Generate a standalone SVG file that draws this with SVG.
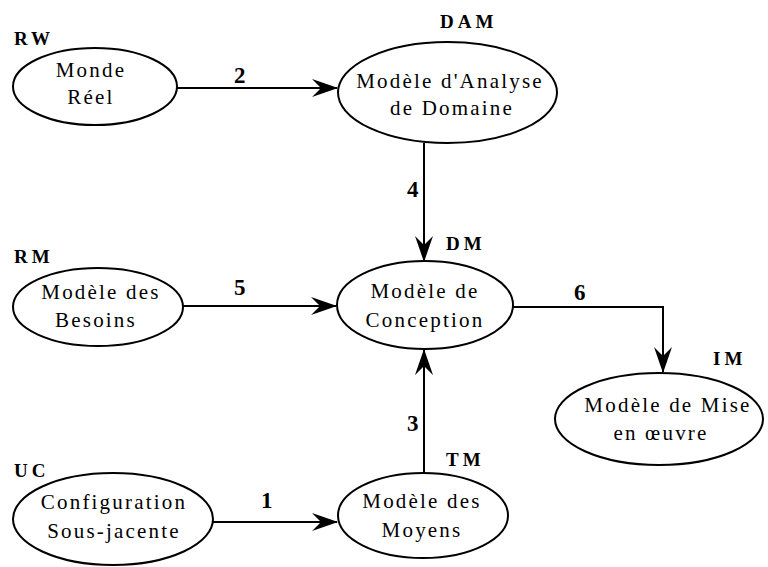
<svg xmlns="http://www.w3.org/2000/svg" width="768" height="567" viewBox="0 0 768 567">
<style>
.n{fill:#fff;stroke:#000;stroke-width:2}
.t{font-family:"Liberation Serif","Times New Roman",serif;font-size:21px;letter-spacing:2.2px;text-anchor:middle;fill:#000}
.l{font-family:"Liberation Serif","Times New Roman",serif;font-size:19px;font-weight:bold;letter-spacing:4px;fill:#000}
.k{font-family:"Liberation Serif","Times New Roman",serif;font-size:23px;font-weight:bold;fill:#000}
.c{fill:none;stroke:#000;stroke-width:2}
</style>
<defs>
<marker id="a" viewBox="0 0 26 18" refX="25" refY="9" markerWidth="26" markerHeight="18" markerUnits="userSpaceOnUse" orient="auto">
<path d="M0,0 L26,9 L0,18 L9,9 Z" fill="#000"/>
</marker>
</defs>
<g id="connectors">
<path class="c" d="M177,88 H337" marker-end="url(#a)"/>
<path class="c" d="M424,143 V261" marker-end="url(#a)"/>
<path class="c" d="M183,306 H336" marker-end="url(#a)"/>
<path class="c" d="M513,307 H663 V372" marker-end="url(#a)"/>
<path class="c" d="M424,473 V350" marker-end="url(#a)"/>
<path class="c" d="M213,522 H337" marker-end="url(#a)"/>
<text class="k" x="234" y="83">2</text>
<text class="k" x="407" y="197">4</text>
<text class="k" x="234" y="295">5</text>
<text class="k" x="574" y="300">6</text>
<text class="k" x="407" y="431">3</text>
<text class="k" x="261" y="508">1</text>
</g>
<g id="RW">
<ellipse class="n" cx="95" cy="86.5" rx="82" ry="38.5"/>
<text class="l" x="14" y="45" letter-spacing="1">RW</text>
<text class="t" x="91" y="77" letter-spacing="3.5">Monde</text>
<text class="t" x="91" y="104" letter-spacing="3.5">Réel</text>
</g>
<g id="DAM">
<ellipse class="n" cx="447.5" cy="92.5" rx="109.5" ry="50.5"/>
<text class="l" x="440" y="28" letter-spacing="5">DAM</text>
<text class="t" x="450" y="88">Modèle d'Analyse</text>
<text class="t" x="452" y="115">de Domaine</text>
</g>
<g id="RM">
<ellipse class="n" cx="98" cy="307" rx="85" ry="39"/>
<text class="l" x="14" y="263">RM</text>
<text class="t" x="101" y="299">Modèle des</text>
<text class="t" x="96" y="327">Besoins</text>
</g>
<g id="DM">
<ellipse class="n" cx="425" cy="305" rx="88" ry="44"/>
<text class="l" x="446" y="250">DM</text>
<text class="t" x="425" y="298">Modèle de</text>
<text class="t" x="425" y="327">Conception</text>
</g>
<g id="IM">
<ellipse class="n" cx="659" cy="419" rx="104" ry="46"/>
<text class="l" x="713" y="365">IM</text>
<text class="t" x="668" y="412">Modèle de Mise</text>
<text class="t" x="661" y="440">en œuvre</text>
</g>
<g id="UC">
<ellipse class="n" cx="113" cy="519" rx="100" ry="46"/>
<text class="l" x="14" y="477">UC</text>
<text class="t" x="114" y="509">Configuration</text>
<text class="t" x="114" y="538">Sous-jacente</text>
</g>
<g id="TM">
<ellipse class="n" cx="423" cy="515.5" rx="85" ry="42.5"/>
<text class="l" x="446" y="466">TM</text>
<text class="t" x="422" y="508" letter-spacing="3">Modèle des</text>
<text class="t" x="422" y="537" letter-spacing="3.5">Moyens</text>
</g>
</svg>
